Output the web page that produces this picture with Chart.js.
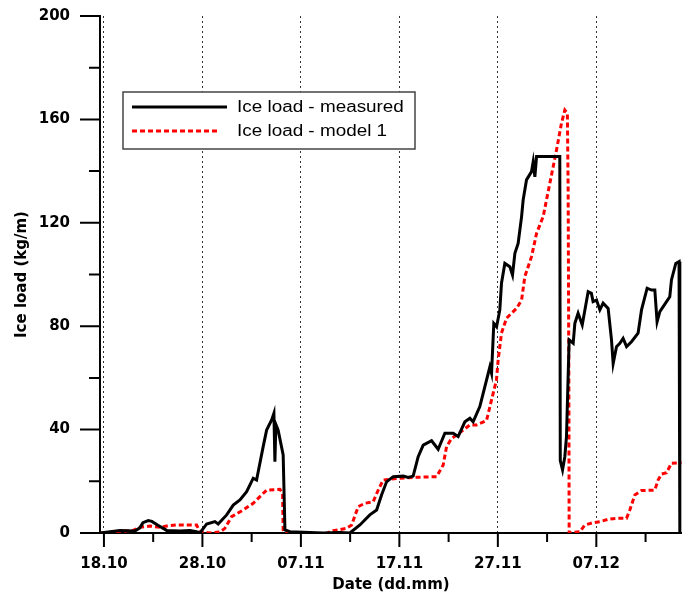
<!DOCTYPE html>
<html>
<head>
<meta charset="utf-8">
<title>Ice load</title>
<script src="https://cdn.jsdelivr.net/npm/chart.js@4.4.1/dist/chart.umd.min.js"></script>
<style>
    body { margin: 0; background: #fff; }
    #wrap { width: 682px; height: 596px; }
</style>
</head>
<body>
<div id="wrap"><canvas id="iceChart" width="682" height="596"></canvas></div>
<script>
// x = days counted from 18.10, y = ice load in kg/m
const measured = [
    [-0.41, 0], [1.62, 1.0], [3.15, 0.8], [3.65, 2.0], [3.96, 4.0], [4.5, 4.8], [4.87, 4.5],
    [5.48, 3.0], [6.37, 1.0], [7.72, 0.8], [8.73, 1.0], [9.41, 0.5], [9.75, 0], [10.43, 3.5],
    [11.27, 4.4], [11.6, 3.5], [12.46, 7], [13.13, 10.8], [13.81, 12.8], [14.49, 16],
    [15.16, 21.2], [15.5, 20.5], [16.17, 33.4], [16.52, 39.8], [17.03, 43.7], [17.26, 46.3],
    [17.36, 27.6], [17.46, 42], [17.69, 39.8], [18.2, 30.2], [18.38, 1.2], [18.88, 0.5],
    [22.26, 0], [23.96, 0.2], [24.97, 0], [25.99, 3.1], [27.0, 7], [27.69, 8.9], [28.19, 14.7],
    [28.7, 19.8], [29.37, 21.8], [30.39, 22], [30.89, 21.5], [31.4, 22], [31.91, 29.5],
    [32.42, 34], [33.27, 35.7], [33.94, 32.4], [34.62, 38.6], [35.46, 38.6], [35.97, 37.3],
    [36.65, 43], [37.16, 44.4], [37.49, 43], [38.17, 48.9], [38.51, 54], [39.19, 64.3],
    [39.36, 61.8], [39.59, 81.1], [39.87, 79.8], [40.2, 86.3], [40.37, 96.6], [40.71, 104.3],
    [41.22, 103], [41.49, 99.8], [41.73, 108.2], [42.06, 112], [42.41, 122.4], [42.57, 128.8],
    [42.91, 136.6], [43.42, 139.8], [43.59, 143.6], [43.76, 137.8], [43.93, 145.6],
    [46.29, 145.6], [46.34, 28], [46.57, 24.4], [46.8, 29.5], [46.97, 37.3], [47.24, 74.7],
    [47.65, 73.4], [47.82, 81.1], [48.15, 85], [48.57, 80.5], [49.17, 93.3], [49.5, 92.7],
    [49.67, 89.5], [50.02, 90.1], [50.36, 86.3], [50.69, 88.9], [51.2, 86.9], [51.54, 74.7],
    [51.71, 65.6], [52.05, 72.1], [52.39, 73.4], [52.72, 75.3], [53.07, 72.1], [53.57, 74],
    [54.24, 77.3], [54.59, 86.3], [55.16, 94.7], [55.6, 94], [55.94, 94], [56.17, 81.7],
    [56.45, 85.6], [57.13, 89.5], [57.46, 91.4], [57.63, 97.9], [58.07, 104.3], [58.4, 105],
    [58.48, 0]
];

const model = [
    [-0.41, 0], [1.62, 0.5], [2.97, 1.0], [3.65, 2.2], [4.67, 2.7], [5.69, 2.2], [6.37, 2.7],
    [7.38, 3.1], [9.41, 3.1], [9.75, 0.5], [10.76, 0], [11.78, 0.4], [12.28, 1.8], [12.96, 6.3],
    [14.14, 8.9], [15.16, 11.5], [16.01, 14.7], [16.52, 16.6], [17.87, 16.9], [18.14, 15.4],
    [18.2, 1.2], [18.38, 0], [19.9, 0.1], [22.44, -0.4], [23.28, 0.9], [24.64, 1.8],
    [25.15, 3.1], [25.82, 10.2], [26.5, 11.5], [27.34, 12.1], [27.85, 16.6], [28.36, 20.5],
    [29.04, 20.8], [30.05, 21.2], [31.4, 21.5], [33.78, 21.8], [34.45, 26.3], [34.79, 33.4],
    [35.3, 36.6], [35.81, 37.9], [36.48, 39.8], [37.16, 41.8], [37.84, 41.8], [38.85, 43.5],
    [39.36, 51.5], [39.86, 59.2], [40.03, 66.9], [40.37, 77.3], [40.88, 83.1], [41.9, 86.9],
    [42.41, 90.1], [42.74, 99.2], [43.42, 106.9], [43.93, 115.9], [44.26, 119.1], [44.6, 122.4],
    [45.28, 135.3], [45.96, 148.2], [46.46, 158.5], [46.8, 163.6], [47.06, 162.4], [47.14, 132],
    [47.21, 60], [47.24, 0], [48.32, 0.5], [48.83, 3.1], [49.67, 4.0], [50.36, 4.4], [51.2, 5.3],
    [52.05, 5.7], [53.07, 5.7], [53.4, 8.9], [53.91, 14.7], [54.59, 16.4], [55.94, 16.6],
    [56.27, 20.5], [56.62, 22.8], [57.13, 23.3], [57.63, 27], [58.65, 27.2]
];

const seriesNames = ["Ice load - measured", "Ice load - model 1"];
const tickDays = [0, 10, 20, 30, 40, 50];
const tickLabels = ["18.10", "28.10", "07.11", "17.11", "27.11", "07.12"];
const minorDays = [5, 15, 25, 35, 45, 55];
const loadTicks = [0, 40, 80, 120, 160, 200];
const loadMinor = [20, 60, 100, 140, 180];

const boldFont = { family: "'DejaVu Sans', sans-serif", size: 15, weight: "bold" };

// long and short tick marks, drawn outside the axes
const tickMarks = {
    id: "tickMarks",
    afterDraw(chart) {
        const ctx = chart.ctx;
        const xs = chart.scales.x;
        const ys = chart.scales.y;
        const area = chart.chartArea;
        ctx.save();
        ctx.strokeStyle = "#000";
        ctx.lineWidth = 2;
        ctx.beginPath();
        tickDays.forEach(d => {
            const px = xs.getPixelForValue(d);
            ctx.moveTo(px, area.bottom);
            ctx.lineTo(px, area.bottom + 14);
        });
        minorDays.forEach(d => {
            const px = xs.getPixelForValue(d);
            ctx.moveTo(px, area.bottom);
            ctx.lineTo(px, area.bottom + 9);
        });
        loadTicks.forEach(v => {
            const py = ys.getPixelForValue(v);
            ctx.moveTo(area.left, py);
            ctx.lineTo(area.left - 20, py);
        });
        loadMinor.forEach(v => {
            const py = ys.getPixelForValue(v);
            ctx.moveTo(area.left, py);
            ctx.lineTo(area.left - 11, py);
        });
        ctx.stroke();
        ctx.restore();
    }
};

// framed legend in the upper left of the plot
const boxLegend = {
    id: "boxLegend",
    afterDatasetsDraw(chart) {
        const ctx = chart.ctx;
        const x0 = 123, y0 = 92, w = 292, h = 57;
        ctx.save();
        ctx.fillStyle = "#fff";
        ctx.fillRect(x0, y0, w, h);
        ctx.strokeStyle = "#444";
        ctx.lineWidth = 1.5;
        ctx.strokeRect(x0, y0, w, h);
        chart.data.datasets.forEach((ds, i) => {
            const ly = y0 + 15 + i * 24;
            ctx.strokeStyle = ds.borderColor;
            ctx.lineWidth = ds.borderWidth;
            ctx.setLineDash(ds.borderDash || []);
            ctx.beginPath();
            ctx.moveTo(x0 + 9, ly);
            ctx.lineTo(x0 + (i === 0 ? 104 : 96), ly);
            ctx.stroke();
            ctx.setLineDash([]);
            ctx.fillStyle = "#000";
            ctx.font = "16px 'Liberation Sans', Arial, sans-serif";
            ctx.textBaseline = "middle";
            ctx.save();
            ctx.translate(x0 + 114, ly + 1);
            ctx.scale(1.18, 1);
            ctx.fillText(ds.label, 0, 0);
            ctx.restore();
        });
        ctx.restore();
    }
};

document.addEventListener("DOMContentLoaded", function () {
    renderChart();
});

function renderChart() {
    const ctx = document.getElementById("iceChart").getContext("2d");

    new Chart(ctx, {
        type: "line",
        data: {
            datasets: [{
                label: seriesNames[0],
                data: measured.map(p => ({ x: p[0], y: p[1] })),
                borderColor: "#000",
                borderWidth: 3,
                pointRadius: 0,
                tension: 0,
                fill: false
            }, {
                label: seriesNames[1],
                data: model.map(p => ({ x: p[0], y: p[1] })),
                borderColor: "#ff0000",
                borderWidth: 3,
                borderDash: [5, 3],
                pointRadius: 0,
                tension: 0,
                fill: false
            }]
        },
        options: {
            responsive: false,
            animation: false,
            layout: { padding: { top: 16, right: 0, left: 0, bottom: 0 } },
            plugins: {
                legend: { display: false },
                tooltip: { enabled: false }
            },
            scales: {
                x: {
                    type: "linear",
                    min: -0.4,
                    max: 58.7,
                    afterBuildTicks: s => { s.ticks = tickDays.map(v => ({ value: v })); },
                    afterFit: s => { s.height = 63; s.paddingLeft = 0; s.paddingRight = 0; },
                    ticks: {
                        callback: v => tickLabels[tickDays.indexOf(v)] || "",
                        color: "#000",
                        font: boldFont,
                        padding: 22,
                        maxRotation: 0,
                        autoSkip: false
                    },
                    grid: { color: "#333", lineWidth: 1, drawTicks: false },
                    border: { color: "#000", width: 2, dash: [2, 3] },
                    title: {
                        display: true,
                        text: "Date (dd.mm)",
                        color: "#000",
                        font: boldFont,
                        padding: { top: 0, bottom: 2 }
                    }
                },
                y: {
                    min: 0,
                    max: 200,
                    afterBuildTicks: s => { s.ticks = loadTicks.map(v => ({ value: v })); },
                    afterFit: s => { s.width = 100; s.paddingTop = 0; s.paddingBottom = 0; },
                    ticks: {
                        color: "#000",
                        font: boldFont,
                        padding: 30
                    },
                    grid: { display: false, drawTicks: false },
                    border: { color: "#000", width: 2 },
                    title: {
                        display: true,
                        text: "Ice load (kg/m)",
                        color: "#000",
                        font: boldFont,
                        padding: { top: 13, bottom: 0 }
                    }
                }
            }
        },
        plugins: [tickMarks, boxLegend]
    });
}
</script>
</body>
</html>
